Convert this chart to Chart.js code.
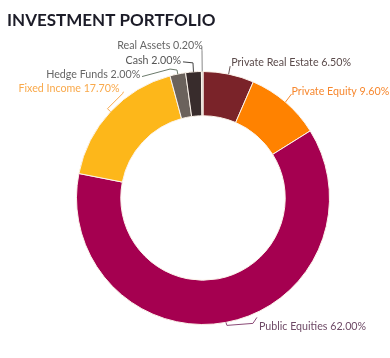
<!DOCTYPE html>
<html>
<head>
<meta charset="utf-8">
<script src="https://cdn.jsdelivr.net/npm/chart.js@4.4.0/dist/chart.umd.min.js"></script>
<style>
  html, body { margin: 0; padding: 0; background: #fff; }
  #wrap { position: relative; width: 390px; height: 358px; }
</style>
</head>
<body>
<div id="wrap"><canvas id="c" width="390" height="358"></canvas></div>
<script>
const chartTitle = 'INVESTMENT PORTFOLIO';
const categories = ['Private Real Estate', 'Private Equity', 'Public Equities', 'Fixed Income', 'Hedge Funds', 'Cash', 'Real Assets'];
const allocations = [6.5, 9.6, 62.0, 17.7, 2.0, 2.0, 0.2];
const sliceColors = ['#7a2329', '#ff8200', '#a50050', '#fdb71a', '#6b625c', '#382c2c', '#c9c3bd'];
const labelColors = ['#5b4b4b', '#f7882f', '#6e4a66', '#f9a94b', '#666666', '#555555', '#666666'];
const leaderColors = ['#6a5a5a', '#f7882f', '#8a4a76', '#f9a94b', '#6b7a6b', '#444444', '#888888'];

// leader styling, relative to the slice's outer mid point
const leaders = [
  { pts: [[0,0],[1.5,-8]], text: [2.5,-12], align: 'left' },
  { pts: [[0,0],[6,-8]], text: [6,-10.5], align: 'left' },
  { pts: [[0,0],[1,3],[27,1],[31,-5]], text: [33,4], align: 'left' },
  { pts: [[0,0],[-3,-3],[12,-18],[13,-20]], text: [9,-23], align: 'right' },
  { pts: [[0,0],[-0.7,-4],[-7.7,-5],[-35.7,2.5]], text: [-37.5,0.5], align: 'right' },
  { pts: [[0,0],[-0.5,-9],[-10.5,-10]], text: [-12.5,-11], align: 'right' },
  { pts: [[0,0],[-0.2,-21],[-0.5,-24]], text: [0.5,-25.5], align: 'right' }
];

const titleShift = {
  id: 'titleShift',
  afterLayout(chart) {
    const t = chart.titleBlock;
    if (t) { t.left = 7; t.right = 383; t.width = 376; }
  }
};

const sliceLabels = {
  id: 'sliceLabels',
  afterDatasetsDraw(chart) {
    const ctx = chart.ctx;
    const meta = chart.getDatasetMeta(0);
    const ds = chart.data.datasets[0];
    ctx.save();
    ctx.font = '10.7px Lato, "Open Sans", sans-serif';
    ctx.textBaseline = 'middle';
    meta.data.forEach((arc, i) => {
      const p = arc.getProps(['x','y','startAngle','endAngle','outerRadius'], true);
      const mid = (p.startAngle + p.endAngle) / 2;
      const sx = p.x + Math.cos(mid) * p.outerRadius;
      const sy = p.y + Math.sin(mid) * p.outerRadius;
      const L = leaders[i];
      ctx.beginPath();
      L.pts.forEach((q, k) => {
        if (k === 0) ctx.moveTo(sx + q[0], sy + q[1]); else ctx.lineTo(sx + q[0], sy + q[1]);
      });
      ctx.strokeStyle = leaderColors[i];
      ctx.lineWidth = 1;
      ctx.stroke();
      ctx.fillStyle = labelColors[i];
      ctx.textAlign = L.align;
      ctx.fillText(chart.data.labels[i] + ' ' + ds.data[i].toFixed(2) + '%', sx + L.text[0], sy + L.text[1]);
    });
    ctx.restore();
  }
};

new Chart(document.getElementById('c'), {
  type: 'doughnut',
  data: {
    labels: categories,
    datasets: [{
      data: allocations,
      backgroundColor: sliceColors,
      borderColor: '#fbf3ea',
      borderWidth: 1
    }]
  },
  options: {
    responsive: false,
    animation: false,
    cutout: '65%',
    layout: { padding: { left: 76, right: 60, top: 0, bottom: 33 } },
    plugins: {
      legend: { display: false },
      tooltip: { enabled: false },
      title: {
        display: true,
        text: chartTitle,
        align: 'start',
        color: '#1c1c28',
        font: { family: 'Lato, "Open Sans", sans-serif', size: 17, weight: 'bold', lineHeight: 1.2 },
        padding: { top: 10, bottom: 40.6 }
      }
    }
  },
  plugins: [titleShift, sliceLabels]
});
</script>
</body>
</html>
